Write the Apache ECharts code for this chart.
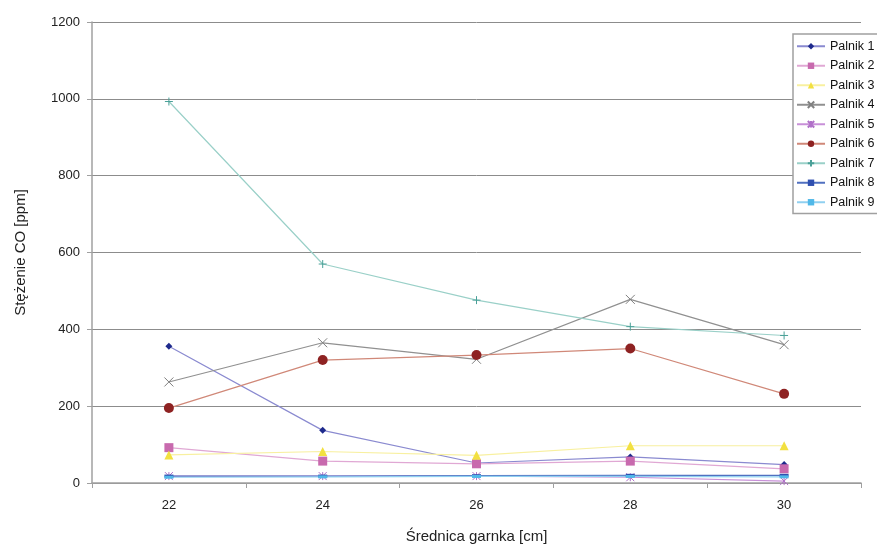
<!DOCTYPE html>
<html>
<head>
<meta charset="utf-8">
<script src="https://cdn.jsdelivr.net/npm/echarts@6/dist/echarts.min.js"></script>
<style>
  html, body { margin: 0; padding: 0; background: #fff; }
  #chart { width: 877px; height: 549px; }
</style>
</head>
<body>
<div id="chart"></div>
<script>
// Pot diameter categories [cm]
const diameters = ['22', '24', '26', '28', '30'];

// CO concentration [ppm] per burner
const palnik1 = [356, 137, 52, 68, 48];
const palnik2 = [92, 57, 50, 57, 37];
const palnik3 = [73, 82, 72, 97, 97];
const palnik4 = [263, 365, 322, 478, 360];
const palnik5 = [18, 18, 18, 15, 5];
const palnik6 = [195, 320, 333, 350, 232];
const palnik7 = [993, 570, 476, 407, 384];
const palnik8 = [18, 18, 19, 20, 20];
const palnik9 = [15, 16, 17, 17, 16];

const yTicks = { min: 0, max: 1200, step: 200 };

const font = 'Liberation Sans, Arial, sans-serif';

const crossPath = 'path://M0,0L10,10M10,0L0,10';
const starPath = 'path://M0,0L10,10M10,0L0,10M5,0L5,10';
const plusPath = 'path://M5,0L5,10M0,5L10,5';

function series(name, data, lineColor, markColor, symbol, size, stroked) {
  return {
    name: name,
    type: 'line',
    data: data,
    symbol: symbol,
    symbolSize: size,
    lineStyle: { color: lineColor, width: 1.2 },
    itemStyle: stroked
      ? { color: markColor, borderColor: markColor, borderWidth: 1 }
      : { color: markColor, borderWidth: 0 },
    emphasis: { disabled: true },
    animation: false
  };
}

const chart = echarts.init(document.getElementById('chart'), null, { renderer: 'canvas' });

chart.setOption({
  backgroundColor: '#ffffff',
  textStyle: { fontFamily: font },
  grid: { left: 92, right: 16, top: 22, bottom: 62 },
  xAxis: {
    type: 'category',
    data: diameters,
    boundaryGap: true,
    name: 'Średnica garnka [cm]',
    nameLocation: 'middle',
    nameGap: 46,
    nameTextStyle: { fontSize: 15, color: '#222', fontFamily: font },
    axisLine: { lineStyle: { color: '#a0a0a0', width: 1.5 } },
    axisTick: { show: true, length: 5, lineStyle: { color: '#a0a0a0' } },
    axisLabel: { fontSize: 13, color: '#222', margin: 16, fontFamily: font },
    splitLine: { show: false }
  },
  yAxis: {
    type: 'value',
    min: yTicks.min,
    max: yTicks.max,
    interval: yTicks.step,
    name: 'Stężenie CO [ppm]',
    nameLocation: 'middle',
    nameGap: 64,
    nameTextStyle: { fontSize: 15, color: '#222', fontFamily: font },
    axisLine: { show: true, lineStyle: { color: '#a0a0a0', width: 1.5 } },
    axisTick: { show: true, length: 5, lineStyle: { color: '#a0a0a0' } },
    axisLabel: {
      fontSize: 13, color: '#222', margin: 12, fontFamily: font,
      formatter: function (v) { return String(v); }
    },
    splitLine: { lineStyle: { color: '#8c8c8c', width: 1 } }
  },
  legend: {
    orient: 'vertical',
    left: 793,
    top: 34,
    padding: [5, 8, 4, 3],
    itemWidth: 28,
    itemHeight: 8,
    itemGap: 5,
    backgroundColor: '#ffffff',
    borderColor: '#a0a0a0',
    borderWidth: 1.5,
    textStyle: { fontSize: 12.5, color: '#111', fontFamily: font, lineHeight: 14.5 },
    data: ['Palnik 1', 'Palnik 2', 'Palnik 3', 'Palnik 4', 'Palnik 5',
           'Palnik 6', 'Palnik 7', 'Palnik 8', 'Palnik 9']
  },
  series: [
    series('Palnik 1', palnik1, '#8a8ad0', '#1e2a8c', 'diamond', 7, false),
    series('Palnik 2', palnik2, '#e0a8d4', '#c86aae', 'rect', 9, false),
    series('Palnik 3', palnik3, '#f8f0a0', '#f2e040', 'triangle', 9, false),
    series('Palnik 4', palnik4, '#909090', '#808080', crossPath, 9, true),
    series('Palnik 5', palnik5, '#c890d8', '#b070c8', starPath, 8, true),
    series('Palnik 6', palnik6, '#d08878', '#8e2222', 'circle', 10, false),
    series('Palnik 7', palnik7, '#9ad0c8', '#4aa098', plusPath, 8, true),
    series('Palnik 8', palnik8, '#5070c0', '#3050b0', 'rect', [9, 3], false),
    series('Palnik 9', palnik9, '#90d0f0', '#50b8e8', 'rect', [9, 3], false)
  ]
});
</script>
</body>
</html>
